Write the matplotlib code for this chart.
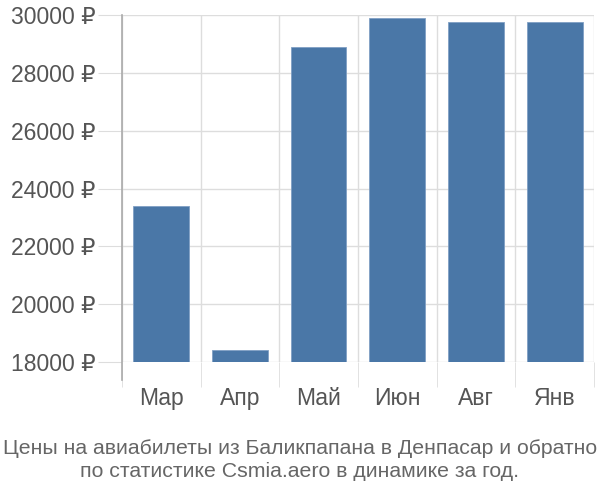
import numpy as np
import matplotlib.pyplot as plt

plt.rcParams['font.family'] = ['Liberation Sans', 'DejaVu Sans']

months = ['Мар', 'Апр', 'Май', 'Июн', 'Авг', 'Янв']
prices = [23400, 18400, 28900, 29900, 29750, 29750]
yticks = [18000, 20000, 22000, 24000, 26000, 28000, 30000]

fig = plt.figure(figsize=(6, 5), dpi=100)
ax = fig.add_axes([0.203, 0.276, 0.787, 0.694])

x = np.arange(len(months))
ax.bar(x, prices, width=0.71, bottom=0, color='#4a77a7', edgecolor='#7f9fc4',
       linewidth=0.6, zorder=3)

ax.set_ylim(18000, 30000)
ax.set_xlim(-0.5, len(months) - 0.5)

ax.set_yticks(yticks)
ax.set_yticklabels([f'{v} ₽' for v in yticks])
ax.set_xticks(x)
ax.set_xticklabels(months)
ax.set_xticks(np.arange(len(months) + 1) - 0.5, minor=True)

ax.grid(axis='y', color='#dddddd', linewidth=1, zorder=0)
ax.grid(axis='x', which='minor', color='#dddddd', linewidth=1, zorder=0)

ax.tick_params(axis='y', length=17, color='#dddddd', labelsize=16.5,
               labelcolor='#555555', pad=2)
ax.tick_params(axis='x', which='major', length=0, labelsize=16.5,
               labelcolor='#555555', pad=18)
ax.tick_params(axis='x', which='minor', length=18, color='#dddddd')

for s in ['top', 'right', 'bottom', 'left']:
    ax.spines[s].set_visible(False)
ax.plot([-0.5, -0.5], [-0.052, 1], transform=ax.get_xaxis_transform(),
        color='#aaaaaa', linewidth=1.2, clip_on=False, zorder=4)

fig.text(0.5, 0.08, 'Цены на авиабилеты из Баликпапана в Денпасар и обратно\n'
         'по статистике Csmia.aero в динамике за год.',
         ha='center', va='center', fontsize=15.3, color='#666666',
         linespacing=1.25)

fig.savefig('out.png', dpi=100)
